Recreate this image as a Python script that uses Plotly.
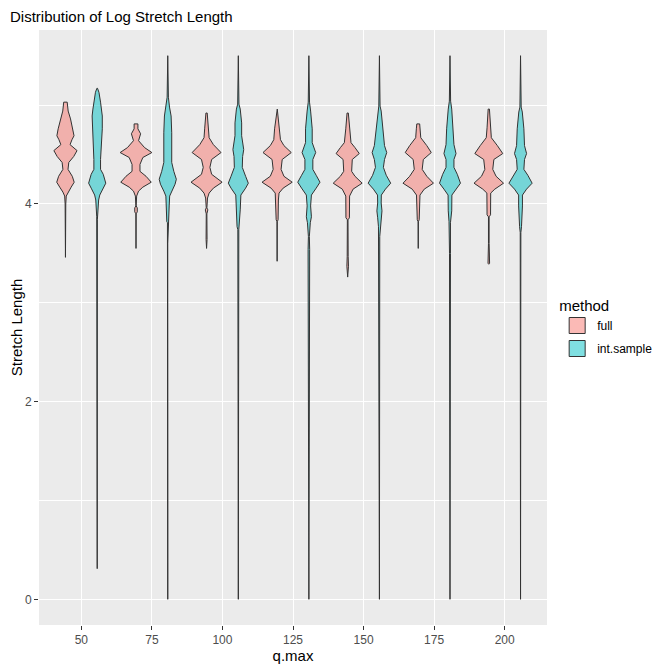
import plotly.graph_objects as go

# q.max groups (discrete x axis)
qmax = ["50", "75", "100", "125", "150", "175", "200"]
methods = ["full", "int.sample"]

# violin outlines: [log stretch length, scaled density (max = 1)]
full_50 = [[5.03, 0.11], [4.94, 0.17], [4.86, 0.32], [4.76, 0.46], [4.69, 0.54], [4.65, 0.41],
           [4.60, 0.29], [4.54, 0.73], [4.48, 0.52], [4.42, 0.21], [4.35, 0.16], [4.28, 0.43],
           [4.22, 0.55], [4.17, 0.36], [4.12, 0.16], [4.08, 0.05], [4.00, 0.02], [3.46, 0.0]]
int_50 = [[5.17, 0.02], [5.13, 0.11], [5.03, 0.21], [4.96, 0.27], [4.89, 0.32], [4.76, 0.32],
          [4.59, 0.25], [4.45, 0.21], [4.35, 0.21], [4.30, 0.38], [4.21, 0.54], [4.16, 0.38],
          [4.09, 0.16], [4.04, 0.09], [3.87, 0.03], [3.84, 0.01], [0.31, 0.0]]
full_75 = [[4.81, 0.12], [4.76, 0.12], [4.71, 0.29], [4.64, 0.16], [4.57, 0.54], [4.52, 1.0],
           [4.47, 0.43], [4.40, 0.25], [4.33, 0.25], [4.28, 0.63], [4.22, 0.96], [4.17, 0.43],
           [4.13, 0.16], [4.08, 0.04], [3.98, 0.01], [3.96, 0.08], [3.92, 0.08], [3.90, 0.01],
           [3.55, 0.0]]
int_75 = [[5.50, 0.0], [5.08, 0.04], [4.98, 0.11], [4.89, 0.21], [4.72, 0.25], [4.55, 0.27],
          [4.42, 0.25], [4.33, 0.38], [4.25, 0.54], [4.20, 0.46], [4.13, 0.25], [4.08, 0.12],
          [3.98, 0.09], [3.82, 0.06], [3.81, 0.02], [3.65, 0.03], [3.60, 0.0], [0.0, 0.0]]
full_100 = [[4.92, 0.04], [4.84, 0.09], [4.76, 0.12], [4.67, 0.16], [4.60, 0.43], [4.52, 0.91],
            [4.45, 0.32], [4.37, 0.21], [4.30, 0.32], [4.22, 0.98], [4.16, 0.43], [4.11, 0.16],
            [4.06, 0.06], [3.96, 0.02], [3.94, 0.08], [3.90, 0.02], [3.64, 0.03], [3.55, 0.0]]
int_100 = [[5.50, 0.0], [5.01, 0.04], [4.96, 0.12], [4.82, 0.21], [4.69, 0.21], [4.55, 0.34],
           [4.48, 0.27], [4.37, 0.25], [4.28, 0.46], [4.21, 0.63], [4.16, 0.46], [4.09, 0.16],
           [3.94, 0.12], [3.77, 0.08], [3.74, 0.03], [0.0, 0.0]]
full_125 = [[4.96, 0.01], [4.84, 0.09], [4.76, 0.16], [4.65, 0.21], [4.59, 0.43], [4.52, 0.89],
            [4.45, 0.32], [4.35, 0.25], [4.28, 0.43], [4.22, 0.95], [4.16, 0.38], [4.11, 0.12],
            [4.04, 0.08], [3.84, 0.06], [3.82, 0.01], [3.42, 0.0]]
int_125 = [[5.50, 0.0], [5.03, 0.04], [4.94, 0.11], [4.76, 0.21], [4.62, 0.21], [4.52, 0.43],
           [4.45, 0.25], [4.35, 0.25], [4.29, 0.46], [4.22, 0.70], [4.16, 0.46], [4.09, 0.16],
           [3.98, 0.11], [3.87, 0.16], [3.81, 0.09], [3.67, 0.03], [3.54, 0.05], [0.0, 0.0]]
full_150 = [[4.92, 0.04], [4.76, 0.12], [4.62, 0.21], [4.57, 0.46], [4.51, 0.73], [4.45, 0.29],
            [4.33, 0.25], [4.28, 0.46], [4.21, 0.91], [4.15, 0.34], [4.08, 0.12], [3.86, 0.11],
            [3.84, 0.02], [3.47, 0.03], [3.37, 0.05], [3.26, 0.0]]
int_150 = [[5.50, 0.0], [4.99, 0.04], [4.94, 0.11], [4.76, 0.21], [4.59, 0.32], [4.52, 0.46],
           [4.45, 0.32], [4.37, 0.25], [4.29, 0.43], [4.21, 0.71], [4.15, 0.38], [4.09, 0.12],
           [4.01, 0.11], [3.93, 0.16], [3.86, 0.11], [3.77, 0.06], [3.67, 0.02], [0.0, 0.0]]
full_175 = [[4.81, 0.09], [4.76, 0.12], [4.67, 0.16], [4.59, 0.54], [4.52, 0.82], [4.45, 0.32],
            [4.35, 0.25], [4.28, 0.54], [4.21, 0.96], [4.15, 0.38], [4.09, 0.11], [3.84, 0.06],
            [3.82, 0.01], [3.55, 0.0]]
int_175 = [[5.50, 0.0], [5.04, 0.04], [4.96, 0.11], [4.76, 0.21], [4.60, 0.25], [4.51, 0.38],
           [4.45, 0.25], [4.37, 0.25], [4.30, 0.46], [4.21, 0.66], [4.15, 0.38], [4.09, 0.12],
           [3.93, 0.11], [3.82, 0.06], [3.81, 0.03], [3.50, 0.03], [0.0, 0.0]]
full_200 = [[4.96, 0.04], [4.77, 0.11], [4.67, 0.16], [4.59, 0.54], [4.51, 0.88], [4.45, 0.32],
            [4.35, 0.25], [4.28, 0.46], [4.21, 0.93], [4.15, 0.38], [4.11, 0.12], [3.89, 0.11],
            [3.87, 0.02], [3.60, 0.02], [3.40, 0.05], [3.39, 0.0]]
int_200 = [[5.50, 0.0], [4.98, 0.04], [4.93, 0.11], [4.76, 0.21], [4.59, 0.25], [4.51, 0.38],
           [4.45, 0.25], [4.35, 0.21], [4.29, 0.46], [4.21, 0.73], [4.15, 0.38], [4.09, 0.12],
           [3.98, 0.12], [3.87, 0.11], [3.77, 0.06], [3.71, 0.02], [0.0, 0.0]]

full_violins = [full_50, full_75, full_100, full_125, full_150, full_175, full_200]
int_violins = [int_50, int_75, int_100, int_125, int_150, int_175, int_200]

fills = {"full": "rgba(248,118,109,0.5)", "int.sample": "rgba(0,191,196,0.5)"}
dodge = 0.225    # ggplot dodge width 0.9 split in two
half_max = 0.225  # widest violin half-width

fig = go.Figure()

for m, violins, off in [("full", full_violins, -dodge), ("int.sample", int_violins, dodge)]:
    for i, v in enumerate(violins):
        c = i + 1 + off
        ys = [p[0] for p in v]
        ws = [p[1] * half_max for p in v]
        x = [c + w for w in ws] + [c - w for w in ws[::-1]] + [c + ws[0]]
        y = ys + ys[::-1] + [ys[0]]
        fig.add_trace(go.Scatter(x=x, y=y, mode="lines", fill="toself",
                                 fillcolor=fills[m],
                                 line=dict(color="#333333", width=1),
                                 hoverinfo="skip", showlegend=False))
    # legend key
    fig.add_trace(go.Scatter(x=[None], y=[None], mode="markers", name=m, legendgroup=m,
                             marker=dict(symbol="square", size=16, color=fills[m],
                                         line=dict(color="#333333", width=1))))

# page body adds ~8px offset, so margins are trimmed to keep the panel in place
fig.update_layout(
    width=672, height=671,
    margin=dict(l=31, r=133, t=22, b=54),
    paper_bgcolor="white", plot_bgcolor="#EBEBEB",
    font=dict(family="Liberation Sans, Arial, sans-serif", color="black"),
    title=dict(text="Distribution of Log Stretch Length", x=2 / 672, xref="container",
               xanchor="left", y=1, yref="container", yanchor="top",
               pad=dict(t=3), font=dict(size=15)),
    legend=dict(title=dict(text="method", font=dict(size=15)), x=1.02, y=0.5,
                xanchor="left", yanchor="middle", font=dict(size=12),
                bgcolor="rgba(0,0,0,0)", tracegroupgap=4),
    showlegend=True,
)
fig.update_xaxes(range=[0.4, 7.6], tickvals=list(range(1, 8)), ticktext=qmax,
                 showgrid=True, gridcolor="white", gridwidth=1.1, zeroline=False,
                 ticks="outside", ticklen=4, tickcolor="#333333",
                 tickfont=dict(size=12, color="#4D4D4D"), automargin=False,
                 title=dict(text="q.max", font=dict(size=15), standoff=4))
fig.update_yaxes(range=[-0.26, 5.76], tickvals=[0, 2, 4],
                 showgrid=True, gridcolor="white", gridwidth=1.1, zeroline=False,
                 minor=dict(tickvals=[1, 3, 5], showgrid=True, gridcolor="white", gridwidth=0.5),
                 ticks="outside", ticklen=4, tickcolor="#333333",
                 tickfont=dict(size=12, color="#4D4D4D"), automargin=False,
                 title=dict(text="Stretch Length", font=dict(size=15), standoff=4))

fig.write_html("out.html")
